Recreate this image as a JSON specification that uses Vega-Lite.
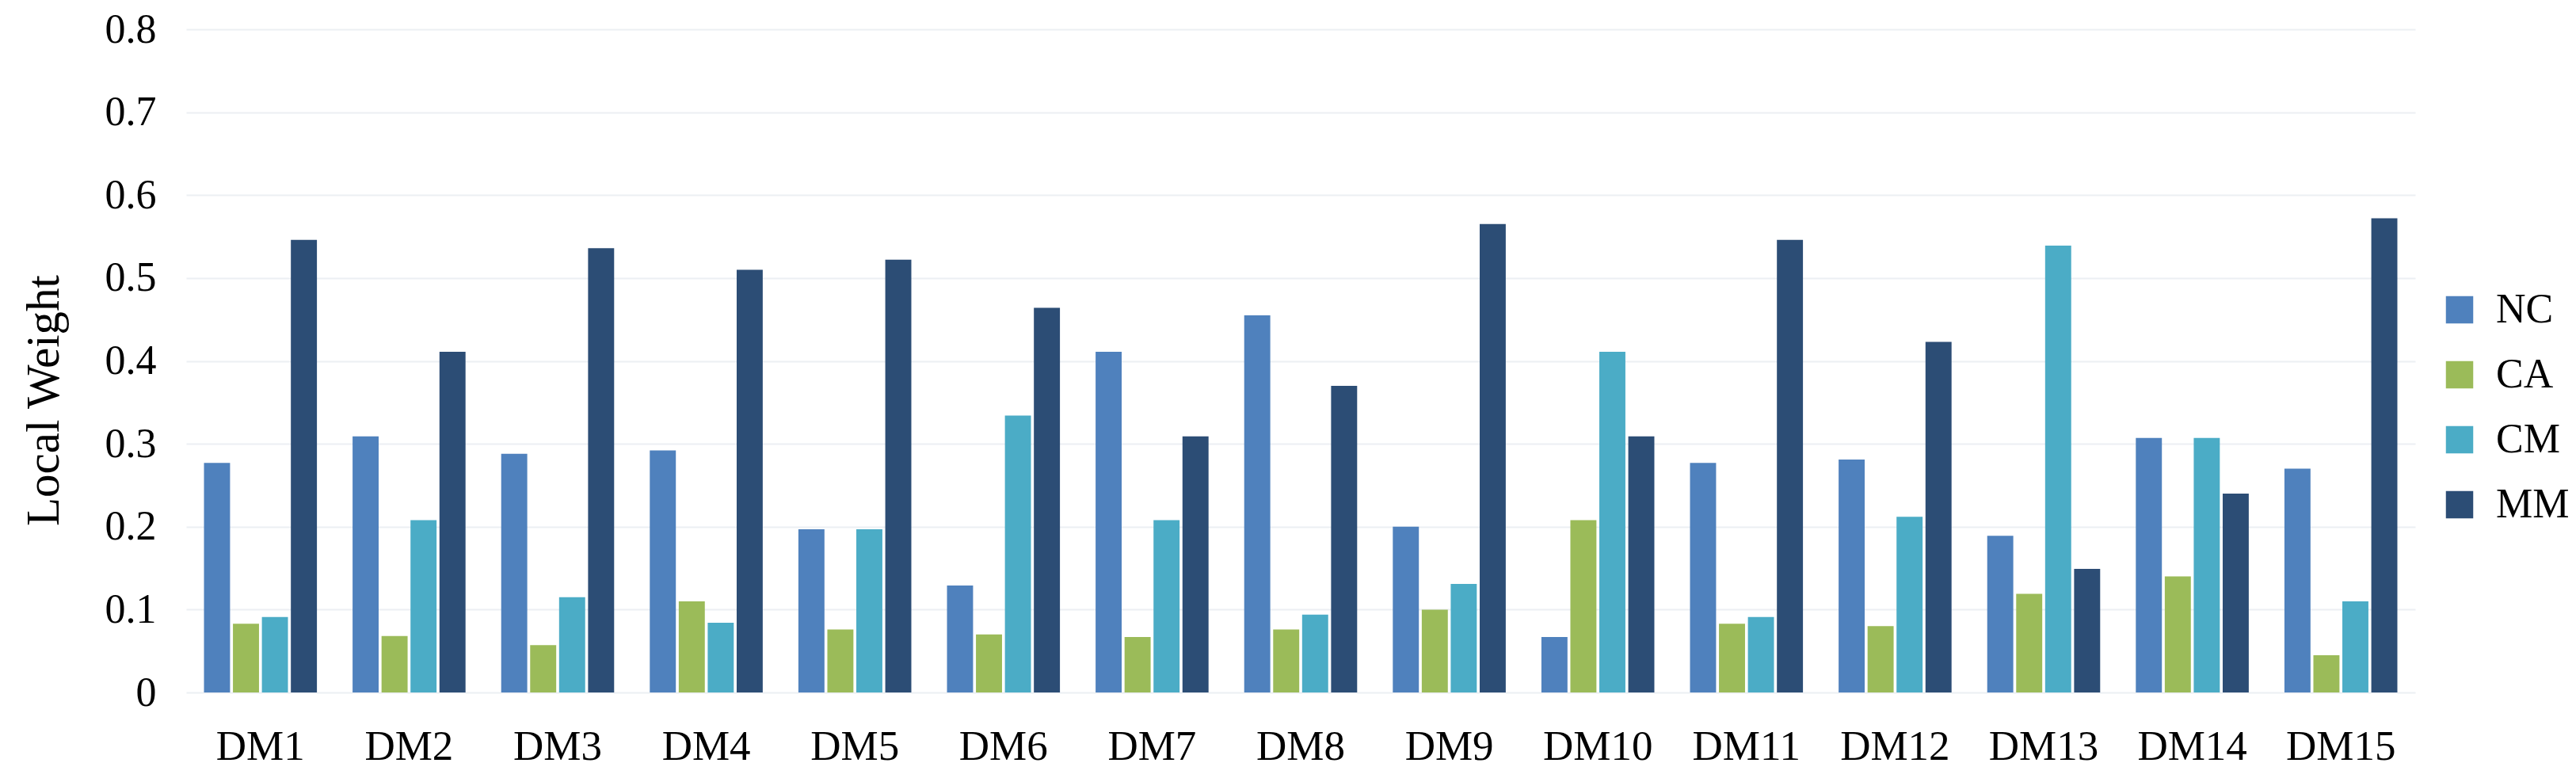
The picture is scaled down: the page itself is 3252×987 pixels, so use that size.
{
  "$schema": "https://vega.github.io/schema/vega-lite/v6.json",
  "autosize": "none",
  "width": 2814,
  "height": 837,
  "padding": {"left": 235, "top": 37, "right": 203, "bottom": 113},
  "background": "white",
  "config": {
    "view": {"stroke": null},
    "font": "Liberation Serif"
  },
  "data": {
    "values": [
      {"dm": "DM1", "s": "NC", "v": 0.277}, {"dm": "DM1", "s": "CA", "v": 0.083}, {"dm": "DM1", "s": "CM", "v": 0.091}, {"dm": "DM1", "s": "MM", "v": 0.546},
      {"dm": "DM2", "s": "NC", "v": 0.309}, {"dm": "DM2", "s": "CA", "v": 0.068}, {"dm": "DM2", "s": "CM", "v": 0.208}, {"dm": "DM2", "s": "MM", "v": 0.411},
      {"dm": "DM3", "s": "NC", "v": 0.288}, {"dm": "DM3", "s": "CA", "v": 0.057}, {"dm": "DM3", "s": "CM", "v": 0.115}, {"dm": "DM3", "s": "MM", "v": 0.536},
      {"dm": "DM4", "s": "NC", "v": 0.292}, {"dm": "DM4", "s": "CA", "v": 0.110}, {"dm": "DM4", "s": "CM", "v": 0.084}, {"dm": "DM4", "s": "MM", "v": 0.510},
      {"dm": "DM5", "s": "NC", "v": 0.197}, {"dm": "DM5", "s": "CA", "v": 0.076}, {"dm": "DM5", "s": "CM", "v": 0.197}, {"dm": "DM5", "s": "MM", "v": 0.522},
      {"dm": "DM6", "s": "NC", "v": 0.129}, {"dm": "DM6", "s": "CA", "v": 0.070}, {"dm": "DM6", "s": "CM", "v": 0.334}, {"dm": "DM6", "s": "MM", "v": 0.464},
      {"dm": "DM7", "s": "NC", "v": 0.411}, {"dm": "DM7", "s": "CA", "v": 0.067}, {"dm": "DM7", "s": "CM", "v": 0.208}, {"dm": "DM7", "s": "MM", "v": 0.309},
      {"dm": "DM8", "s": "NC", "v": 0.455}, {"dm": "DM8", "s": "CA", "v": 0.076}, {"dm": "DM8", "s": "CM", "v": 0.094}, {"dm": "DM8", "s": "MM", "v": 0.370},
      {"dm": "DM9", "s": "NC", "v": 0.200}, {"dm": "DM9", "s": "CA", "v": 0.100}, {"dm": "DM9", "s": "CM", "v": 0.131}, {"dm": "DM9", "s": "MM", "v": 0.565},
      {"dm": "DM10", "s": "NC", "v": 0.067}, {"dm": "DM10", "s": "CA", "v": 0.208}, {"dm": "DM10", "s": "CM", "v": 0.411}, {"dm": "DM10", "s": "MM", "v": 0.309},
      {"dm": "DM11", "s": "NC", "v": 0.277}, {"dm": "DM11", "s": "CA", "v": 0.083}, {"dm": "DM11", "s": "CM", "v": 0.091}, {"dm": "DM11", "s": "MM", "v": 0.546},
      {"dm": "DM12", "s": "NC", "v": 0.281}, {"dm": "DM12", "s": "CA", "v": 0.080}, {"dm": "DM12", "s": "CM", "v": 0.212}, {"dm": "DM12", "s": "MM", "v": 0.423},
      {"dm": "DM13", "s": "NC", "v": 0.189}, {"dm": "DM13", "s": "CA", "v": 0.119}, {"dm": "DM13", "s": "CM", "v": 0.539}, {"dm": "DM13", "s": "MM", "v": 0.149},
      {"dm": "DM14", "s": "NC", "v": 0.307}, {"dm": "DM14", "s": "CA", "v": 0.140}, {"dm": "DM14", "s": "CM", "v": 0.307}, {"dm": "DM14", "s": "MM", "v": 0.240},
      {"dm": "DM15", "s": "NC", "v": 0.270}, {"dm": "DM15", "s": "CA", "v": 0.045}, {"dm": "DM15", "s": "CM", "v": 0.110}, {"dm": "DM15", "s": "MM", "v": 0.572}
    ]
  },
  "mark": {"type": "bar"},
  "encoding": {
    "x": {
      "field": "dm", "type": "nominal", "sort": null,
      "scale": {"paddingInner": 0.24, "paddingOuter": 0.12},
      "axis": {
        "title": null, "labelAngle": 0, "ticks": false, "domain": false, "grid": false,
        "labelFont": "Liberation Serif", "labelFontSize": 53, "labelColor": "#000000",
        "labelPadding": 42, "labelBaseline": "top"
      }
    },
    "xOffset": {
      "field": "s", "type": "nominal", "sort": ["NC", "CA", "CM", "MM"],
      "scale": {"paddingInner": 0.1, "paddingOuter": 0}
    },
    "y": {
      "field": "v", "type": "quantitative",
      "scale": {"domain": [0, 0.8], "nice": false},
      "axis": {
        "title": "Local Weight",
        "values": [0, 0.1, 0.2, 0.3, 0.4, 0.5, 0.6, 0.7, 0.8],
        "format": ".1~f",
        "ticks": false, "domain": false,
        "grid": true, "gridColor": "#ECEFF3", "gridWidth": 2,
        "labelFont": "Liberation Serif", "labelFontSize": 52, "labelColor": "#000000",
        "labelPadding": 38,
        "titleFont": "Liberation Serif", "titleFontSize": 59, "titleFontWeight": "normal", "titleColor": "#000000",
        "titleX": -162, "titleY": 468, "titleBaseline": "alphabetic", "titleAngle": 270, "titleAlign": "center"
      }
    },
    "color": {
      "field": "s", "type": "nominal", "sort": ["NC", "CA", "CM", "MM"],
      "scale": {"domain": ["NC", "CA", "CM", "MM"], "range": ["#4F81BD", "#9BBB59", "#4BACC6", "#2C4D75"]},
      "legend": {
        "title": null, "orient": "none", "legendX": 2844, "legendY": 328,
        "symbolType": "square", "symbolSize": 1190, "symbolStrokeWidth": 0,
        "labelFont": "Liberation Serif", "labelFontSize": 52, "labelColor": "#000000",
        "labelOffset": 20, "rowPadding": 30, "padding": 0
      }
    }
  }
}
